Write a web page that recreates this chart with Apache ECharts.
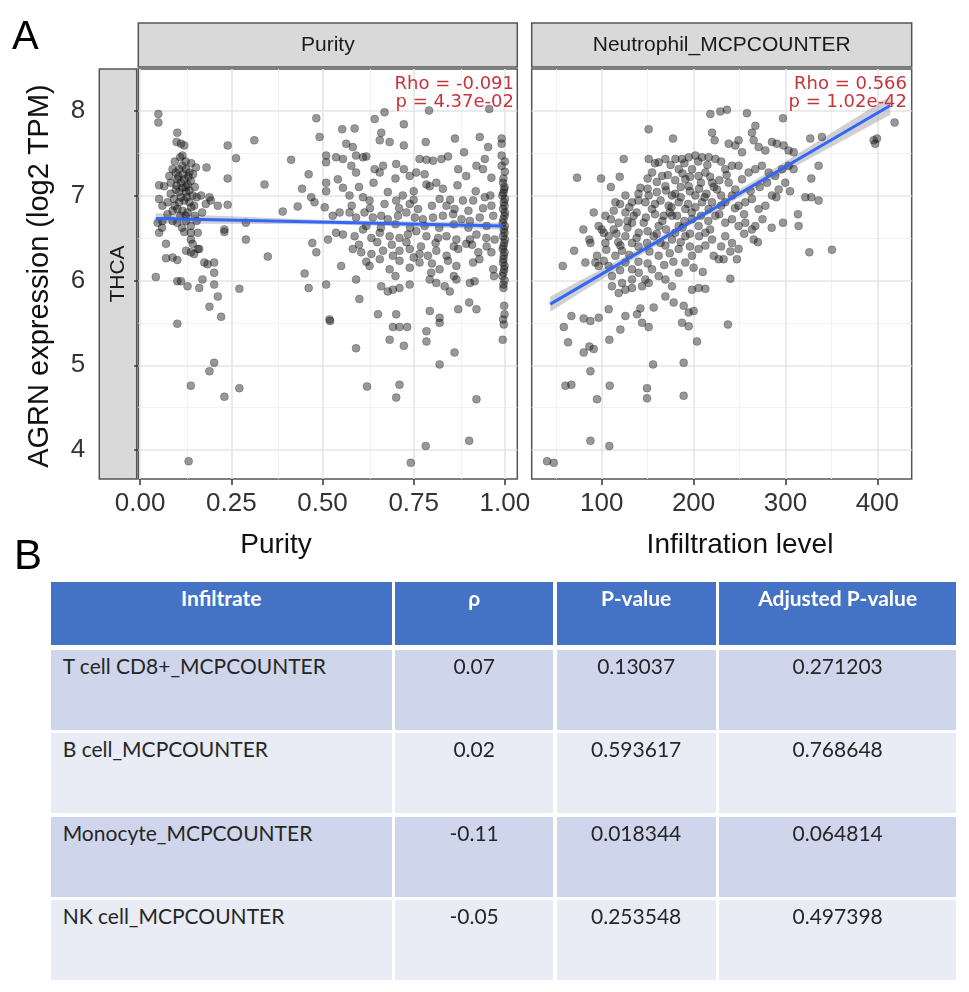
<!DOCTYPE html>
<html>
<head>
<meta charset="utf-8">
<script src="https://cdn.jsdelivr.net/npm/echarts@6/dist/echarts.min.js"></script>
<style>
html,body{margin:0;padding:0;background:#fff;}
#chart{position:absolute;left:0;top:0;width:969px;height:992px;}
#tbl{position:absolute;left:0;top:0;}
.cell{position:absolute;box-sizing:border-box;font-family:Lato,'Open Sans',sans-serif;font-size:21px;color:#262626;white-space:nowrap;overflow:hidden;}
</style>
</head>
<body>
<div id="chart"></div>
<div id="tbl"></div>
<script>
// ---------------- DATA ----------------
const panelTitles = ['Purity', 'Neutrophil_MCPCOUNTER'];
const cancerLabel = 'THCA';
const xTitles = ['Purity', 'Infiltration level'];
const yTitle = 'AGRN expression (log2 TPM)';
const purityTicks = [0, 0.25, 0.5, 0.75, 1.0];
const purityMinor = [0.125, 0.375, 0.625, 0.875];
const infiltrationTicks = [100, 200, 300, 400];
const infiltrationMinor = [50, 150, 250, 350];
const expressionTicks = [4, 5, 6, 7, 8];
const expressionMinor = [4.5, 5.5, 6.5, 7.5];
const purityStats = ['Rho = -0.091', 'p = 4.37e-02'];
const neutrophilStats = ['Rho = 0.566', 'p = 1.02e-42'];

// [purity, AGRN expression]
const purityPoints = [
[0.050,7.96],[0.050,7.86],[0.102,7.74],[0.100,7.63],[0.112,7.61],[0.121,7.59],[0.116,7.47],[0.240,7.59],[0.313,7.65],[0.263,7.44],[0.153,7.33],[0.182,7.33],[0.240,7.20],[0.341,7.13],
[0.089,7.31],[0.098,7.27],[0.107,7.31],[0.116,7.35],[0.126,7.31],[0.135,7.27],[0.102,7.19],[0.112,7.15],[0.121,7.19],[0.130,7.13],[0.139,7.17],[0.098,7.07],[0.107,7.04],[0.116,7.09],[0.126,7.04],[0.135,7.06],[0.144,7.00],[0.093,6.96],[0.107,6.92],[0.121,6.94],[0.135,6.92],[0.148,6.88],[0.102,6.84],[0.116,6.82],[0.130,6.80],[0.084,7.02],[0.075,6.92],[0.089,6.82],
[0.095,7.40],[0.110,7.45],[0.125,7.40],[0.140,7.38],[0.105,7.22],[0.118,7.25],[0.132,7.22],[0.145,7.25],[0.100,7.12],[0.125,7.10],[0.150,7.10],[0.112,6.98],[0.128,6.98],[0.155,6.98],[0.095,6.88],[0.140,6.86],[0.110,6.76],[0.125,6.76],[0.150,6.76],[0.170,6.80],[0.180,6.90],[0.075,6.78],[0.060,6.62],[0.115,6.62],[0.155,6.70],
[0.052,7.12],[0.066,7.11],[0.080,7.23],[0.084,7.15],[0.052,6.96],[0.061,6.88],
[0.167,7.00],[0.190,6.98],[0.194,6.94],[0.213,6.88],[0.240,6.89],[0.391,6.81],
[0.048,6.68],[0.061,6.70],[0.089,6.70],[0.102,6.68],[0.126,6.70],[0.139,6.64],
[0.052,6.56],[0.121,6.57],[0.139,6.56],[0.158,6.56],[0.231,6.60],[0.231,6.57],[0.290,6.68],[0.290,6.48],[0.071,6.43],[0.139,6.48],[0.144,6.43],[0.158,6.37],[0.126,6.35],[0.139,6.33],[0.148,6.31],[0.162,6.37],[0.350,6.28],[0.071,6.26],[0.089,6.27],[0.102,6.24],[0.176,6.21],[0.185,6.19],[0.203,6.21],[0.203,6.09],[0.043,6.04],[0.102,5.99],[0.112,5.99],[0.130,5.93],[0.162,5.91],[0.171,6.01],[0.203,5.95],[0.213,5.81],[0.272,5.90],[0.190,5.69],[0.222,5.57],[0.102,5.49],[0.203,5.03],[0.190,4.93],[0.139,4.76],[0.272,4.73],[0.231,4.63],[0.133,3.87],
[0.483,7.91],[0.492,7.69],[0.414,7.42],[0.462,7.25],[0.510,7.47],[0.510,7.39],[0.444,7.08],[0.469,6.98],[0.478,6.92],[0.432,6.87],[0.506,6.86],[0.510,7.15],[0.510,7.05],[0.472,6.44],[0.483,6.33],[0.515,6.48],[0.451,6.08],[0.462,5.91],[0.510,5.95],[0.519,5.54],[0.521,5.52],
[0.643,7.90],[0.670,7.98],[0.792,8.00],[0.957,8.02],[0.723,7.84],[0.554,7.78],[0.588,7.79],[0.661,7.74],[0.657,7.65],[0.684,7.63],[0.723,7.59],[0.783,7.63],[0.863,7.67],[0.931,7.69],[0.991,7.67],[0.991,7.61],[0.954,7.57],[0.945,7.43],[0.888,7.51],
[0.565,7.61],[0.583,7.57],[0.592,7.47],[0.611,7.45],[0.620,7.46],[0.537,7.45],[0.556,7.43],[0.579,7.35],[0.592,7.27],[0.643,7.31],[0.657,7.27],[0.666,7.35],[0.702,7.37],[0.723,7.31],[0.739,7.23],[0.757,7.27],[0.766,7.43],[0.785,7.42],[0.803,7.41],[0.826,7.43],[0.844,7.46],[0.785,7.13],[0.794,7.11],[0.812,7.15],[0.872,7.31],[0.894,7.23],[0.922,7.35],[0.940,7.31],[0.963,7.21],[0.991,7.47],[0.991,7.35],
[0.995,7.15],[0.998,7.07],[0.993,7.00],[0.997,6.92],[0.995,6.84],[0.999,6.76],[0.994,6.68],[0.997,6.60],[0.995,6.52],[0.998,6.44],[0.994,6.37],[0.997,6.29],[0.995,6.21],[0.998,6.13],[0.993,6.05],[0.996,5.91],[0.995,5.54],[0.997,5.48],[0.994,5.30],[1.000,7.40],[1.000,7.28],[0.996,7.20],[1.000,6.96],[1.000,6.80],[1.000,6.64],[1.000,6.48],
[0.999,7.10],[0.996,7.03],[0.999,6.88],[0.996,6.72],[0.999,6.56],[0.996,6.40],[0.999,6.33],[0.996,6.25],[0.999,6.17],[0.996,6.09],[0.999,6.00],[0.996,5.95],[0.998,5.70],[0.999,5.60],
[0.542,7.19],[0.556,7.09],[0.574,7.00],[0.611,6.98],[0.629,6.94],[0.679,7.04],[0.702,6.94],[0.720,7.00],[0.739,6.90],[0.762,6.84],[0.821,6.96],[0.840,6.88],[0.862,6.84],[0.885,6.94],[0.913,6.94],[0.945,6.98],[0.963,6.88],
[0.600,7.10],[0.640,7.15],[0.700,7.20],[0.750,7.05],[0.780,7.25],[0.830,7.08],[0.870,7.12],[0.920,7.05],[0.960,7.00],[0.580,6.88],[0.630,6.85],[0.670,6.90],[0.710,6.85],[0.750,6.95],[0.800,6.88],[0.850,6.95],[0.900,6.82],[0.940,6.85],
[0.528,6.76],[0.547,6.80],[0.574,6.80],[0.592,6.74],[0.615,6.80],[0.638,6.74],[0.661,6.76],[0.679,6.72],[0.707,6.76],[0.730,6.80],[0.753,6.74],[0.775,6.72],[0.803,6.74],[0.830,6.76],[0.858,6.78],[0.881,6.72],[0.904,6.70],[0.931,6.74],[0.968,6.76],
[0.620,6.64],[0.660,6.62],[0.700,6.66],[0.740,6.62],[0.780,6.64],[0.820,6.62],[0.860,6.66],[0.900,6.62],[0.950,6.64],
[0.537,6.56],[0.556,6.54],[0.588,6.52],[0.611,6.60],[0.634,6.50],[0.657,6.56],[0.684,6.52],[0.711,6.50],[0.734,6.54],[0.757,6.58],[0.785,6.52],[0.817,6.50],[0.840,6.52],[0.867,6.48],[0.904,6.48],[0.922,6.54],[0.949,6.50],[0.972,6.48],
[0.600,6.42],[0.650,6.45],[0.690,6.42],[0.730,6.45],[0.770,6.40],[0.810,6.44],[0.860,6.40],[0.910,6.42],[0.950,6.40],
[0.583,6.37],[0.606,6.33],[0.634,6.31],[0.666,6.35],[0.693,6.29],[0.711,6.35],[0.739,6.37],[0.766,6.31],[0.789,6.29],[0.812,6.35],[0.840,6.29],[0.872,6.37],[0.894,6.43],[0.927,6.33],[0.963,6.33],
[0.551,6.17],[0.592,6.01],[0.629,6.17],[0.657,6.25],[0.684,6.13],[0.711,6.23],[0.739,6.15],[0.766,6.21],[0.798,6.09],[0.821,6.13],[0.844,6.23],[0.867,6.17],[0.913,6.21],[0.968,6.13],
[0.620,6.22],[0.700,6.05],[0.750,6.27],[0.800,6.20],[0.860,6.05],[0.930,6.25],[0.970,6.05],
[0.661,5.93],[0.679,5.87],[0.693,5.89],[0.711,5.91],[0.739,5.95],[0.794,6.01],[0.812,5.97],[0.835,5.93],[0.849,5.87],[0.867,6.01],[0.904,5.97],[0.917,5.99],
[0.601,5.78],[0.652,5.60],[0.702,5.60],[0.794,5.64],[0.821,5.56],[0.821,5.50],[0.872,5.66],[0.902,5.74],[0.922,5.66],
[0.693,5.45],[0.711,5.45],[0.732,5.45],[0.592,5.20],[0.684,5.30],[0.723,5.23],[0.785,5.40],[0.785,5.28],[0.862,5.15],[0.821,5.01],[0.622,4.75],[0.711,4.77],[0.702,4.62],[0.922,4.60],[0.783,4.05],[0.902,4.11],[0.742,3.85]
];

// [Neutrophil_MCPCOUNTER infiltration level, AGRN expression]
const neutrophilPoints = [
[40.5,3.87],[47.8,3.85],[87.7,4.11],[108.3,4.05],[60.5,4.76],[67.0,4.77],[94.9,4.60],[108.7,4.76],[149.3,4.73],[149.3,4.61],[189.2,4.64],[87.7,4.93],[155.9,5.01],[189.2,5.03],[80.4,5.15],[86.6,5.22],[91.3,5.19],[63.4,5.27],[108.3,5.30],[58.7,5.45],[67.0,5.58],[80.4,5.55],[87.7,5.52],[96.7,5.56],[107.6,5.66],[120.3,5.42],[125.8,5.58],[138.5,5.60],[142.1,5.67],[143.9,5.50],[151.1,5.45],[156.6,5.68],[169.3,5.81],[178.3,5.74],[189.2,5.70],[194.7,5.62],[200.1,5.64],[187.4,5.50],[194.7,5.46],[203.7,5.28],[198.3,5.89],[205.5,5.91],[212.8,5.90],[57.6,6.17],[82.2,6.21],[93.1,6.21],[96.7,6.17],[86.6,6.48],[91.3,6.80],[73.2,7.21],[99.3,7.20],[119.6,7.22],[123.9,7.43],[151.1,7.78],[177.6,7.67],[218.2,7.96],[229.1,7.99],[220.1,7.74],[222.9,7.65],
[104.0,6.76],[113.1,6.82],[118.5,6.68],[102.2,6.56],[107.6,6.52],[122.1,6.35],[120.3,6.41],[125.8,6.52],[133.0,6.68],[134.8,6.76],[140.3,6.56],[142.1,7.09],[147.5,6.92],[151.1,7.00],[154.8,6.84],[145.7,6.68],[149.3,6.44],[156.6,6.52],[162.0,6.64],[167.5,6.76],[172.9,6.88],[176.5,7.00],[169.3,7.11],[165.7,7.23],[154.8,7.27],[151.1,7.43],[162.0,7.39],[169.3,7.43],[180.2,7.43],[187.4,7.43],[194.7,7.45],[201.9,7.47],[209.2,7.45],[216.4,7.45],[223.7,7.43],[183.8,7.31],[191.0,7.19],[198.3,7.31],[205.5,7.23],[212.8,7.27],[220.1,7.15],[225.5,7.07],[194.7,7.11],[201.9,7.00],[209.2,6.92],[216.4,6.84],[223.7,6.76],[183.8,6.92],[191.0,6.84],[198.3,6.72],[205.5,6.64],[212.8,6.56],[220.1,6.48],[176.5,6.76],[183.8,6.64],[191.0,6.52],[176.5,6.48],[183.8,6.37],[169.3,6.41],[162.0,6.29],[154.8,6.13],[162.0,6.05],[169.3,6.01],[176.5,5.93],[183.8,6.09],[191.0,6.21],[198.3,6.29],[205.5,6.37],[212.8,6.41],[221.9,6.29],[227.3,6.25],[133.0,6.44],[114.9,6.29],[125.8,6.21],[133.0,6.13],[140.3,6.09],[147.5,6.01],[133.0,6.01],[122.1,5.97],[111.2,5.93],[118.5,5.85],[125.8,5.89],[133.0,5.91],[143.9,5.93],[151.1,5.97],[111.2,6.05],[107.6,6.17],[102.2,6.23],[94.9,6.29],[114.9,6.92],[125.8,6.80],[133.0,6.92],[125.8,7.00],[96.7,6.64],[87.7,6.44],[104.0,6.44],[113.1,6.60],
[158,7.38],[175,7.36],[190,7.38],[205,7.40],[215,7.36],[230,7.40],
[150,7.20],[160,7.16],[172,7.24],[180,7.18],[188,7.26],[196,7.22],[208,7.15],[218,7.22],[228,7.18],[236,7.24],
[140,7.02],[150,7.08],[160,7.04],[170,7.06],[180,7.02],[186,7.10],[196,7.05],[206,7.08],[214,7.02],[222,7.10],[230,7.00],
[120,6.90],[130,6.86],[140,6.94],[158,6.90],[164,6.94],[176,6.86],[186,6.98],[194,6.90],[202,6.86],[212,6.98],[220,6.92],[230,6.88],
[110,6.72],[128,6.70],[138,6.80],[148,6.74],[158,6.78],[166,6.70],[174,6.80],[182,6.76],[190,6.70],[198,6.80],[208,6.76],[216,6.70],[228,6.78],
[100,6.60],[116,6.55],[128,6.62],[138,6.50],[150,6.58],[160,6.55],[170,6.60],[180,6.56],[188,6.62],[196,6.55],[206,6.52],[218,6.60],
[105,6.36],[118,6.45],[130,6.30],[140,6.40],[152,6.34],[164,6.44],[174,6.32],[186,6.45],[196,6.40],[230,6.40],[240,6.34],
[120,6.12],[140,6.22],[150,6.20],[168,6.18],[178,6.22],[200,6.15],[210,6.10],
[245,6.85],[255,6.78],[262,7.05],[272,7.10],[280,7.15],[290,6.98],[305,7.05],[255,6.55],[270,6.45],[285,6.62],
[80,6.60],[70,6.35],[110,7.10],
[418.8,7.86],[396.0,7.65],[399.6,7.67],[397.7,7.61],[297.3,7.91],[258.1,7.97],[236.3,8.01],[267.2,7.82],[263.5,7.74],[249.0,7.65],[245.4,7.59],[238.2,7.61],[252.7,7.51],[265.4,7.65],[270.8,7.57],[278.1,7.53],[285.3,7.63],[290.7,7.61],[298.0,7.59],[303.4,7.53],[308.9,7.51],[327.0,7.67],[339.7,7.69],
[336.1,7.35],[328.1,7.20],[321.6,6.98],[328.1,6.98],[336.1,6.94],[313.6,6.78],[314.3,6.64],[297.3,6.68],[275.0,6.72],[326.0,6.33],[350.6,6.36],[240.0,6.02],[237.4,5.48],
[234.5,7.31],[241.8,7.35],[249.0,7.35],[238.2,7.15],[245.4,7.07],[252.7,7.19],[259.9,7.27],[267.2,7.31],[274.4,7.35],[281.7,7.27],[288.9,7.23],[296.2,7.31],[303.4,7.35],[308.9,7.31],[234.5,6.92],[241.8,7.00],[249.0,6.88],[256.3,6.92],[263.5,6.96],[270.8,6.84],[278.1,6.88],[285.3,7.00],[292.6,7.07],[299.8,7.15],[234.5,6.68],[241.8,6.72],[249.0,6.64],[256.3,6.68],[263.5,6.60],[234.5,6.52],[241.8,6.44],[249.0,6.37],[247.2,6.25],[232.7,6.25],[265.4,6.48],[267.2,6.64]
];

// fitted lines and confidence bands: [x, lower, upper]
const purityFit = [[0.043, 6.73], [0.995, 6.64]];
const purityBand = [[0.043, 6.67, 6.79], [0.5, 6.66, 6.71], [0.995, 6.60, 6.68]];
const neutrophilFit = [[44, 5.72], [414, 8.06]];
const neutrophilBand = [[44, 5.63, 5.81], [120, 6.15, 6.25], [200, 6.675, 6.74], [300, 7.28, 7.40], [414, 7.95, 8.17]];

// table
const tableHeader = ['Infiltrate', 'ρ', 'P-value', 'Adjusted P-value'];
const tableRows = [
  ['T cell CD8+_MCPCOUNTER', '0.07', '0.13037', '0.271203'],
  ['B cell_MCPCOUNTER', '0.02', '0.593617', '0.768648'],
  ['Monocyte_MCPCOUNTER', '-0.11', '0.018344', '0.064814'],
  ['NK cell_MCPCOUNTER', '-0.05', '0.253548', '0.497398']
];

// ---------------- LAYOUT ----------------
const P1 = {left: 138.3, top: 69, width: 379, height: 410};
const P2 = {left: 531.7, top: 69, width: 380, height: 410};
const STRIP_TOP = 23, STRIP_H = 44;
const AXF = "'Liberation Sans', Arial, sans-serif";

const chart = echarts.init(document.getElementById('chart'), null, {renderer: 'canvas'});

function gridLines(xMaj, xMin, yMaj, yMin) {
  const maj = {color: '#e5e5e5', width: 1.6, type: 'solid'};
  const mn = {color: '#f1f1f1', width: 0.9, type: 'solid'};
  return [].concat(
    xMin.map(v => ({xAxis: v, lineStyle: mn})),
    yMin.map(v => ({yAxis: v, lineStyle: mn})),
    xMaj.map(v => ({xAxis: v, lineStyle: maj})),
    yMaj.map(v => ({yAxis: v, lineStyle: maj}))
  );
}
function bandRenderer(band) {
  return function (params, api) {
    if (params.dataIndex !== 0) return null;
    const pts = [];
    band.forEach(b => pts.push(api.coord([b[0], b[2]])));
    for (let i = band.length - 1; i >= 0; i--) pts.push(api.coord([band[i][0], band[i][1]]));
    return {type: 'polygon', shape: {points: pts}, style: {fill: 'rgba(150,150,150,0.45)'}, silent: true};
  };
}
function xAxisCfg(idx, min, max, ticks, fmt) {
  return {
    gridIndex: idx, type: 'value', min: min, max: max,
    axisLine: {show: false}, splitLine: {show: false},
    axisTick: {show: true, length: 6, customValues: ticks, lineStyle: {color: '#333', width: 1.5}},
    axisLabel: {customValues: ticks, formatter: fmt, fontSize: 26, fontFamily: AXF, color: '#333', margin: 12}
  };
}
const pointStyle = {color: 'rgba(20,20,20,0.55)', borderColor: 'rgba(0,0,0,0.35)', borderWidth: 0.8};

const option = {
  animation: false,
  backgroundColor: '#fff',
  grid: [
    Object.assign({show: true, borderColor: '#555', borderWidth: 1.5, backgroundColor: '#fff'}, P1),
    Object.assign({show: true, borderColor: '#555', borderWidth: 1.5, backgroundColor: '#fff'}, P2)
  ],
  xAxis: [
    xAxisCfg(0, -0.005, 1.034, purityTicks, v => v.toFixed(2)),
    xAxisCfg(1, 23.8, 437.4, infiltrationTicks, v => String(v))
  ],
  yAxis: [
    {gridIndex: 0, type: 'value', min: 3.66, max: 8.49, offset: 39,
     axisLine: {show: false}, splitLine: {show: false},
     axisTick: {show: true, length: 6, customValues: expressionTicks, lineStyle: {color: '#333', width: 1.5}},
     axisLabel: {customValues: expressionTicks, formatter: v => String(v), fontSize: 26, fontFamily: AXF, color: '#333', margin: 14}},
    {gridIndex: 1, type: 'value', min: 3.66, max: 8.49,
     axisLine: {show: false}, splitLine: {show: false}, axisTick: {show: false}, axisLabel: {show: false}}
  ],
  series: [
    {type: 'custom', xAxisIndex: 0, yAxisIndex: 0, data: purityBand, renderItem: bandRenderer(purityBand), clip: true, z: 2, silent: true},
    {type: 'custom', xAxisIndex: 1, yAxisIndex: 1, data: neutrophilBand, renderItem: bandRenderer(neutrophilBand), clip: true, z: 2, silent: true},
    {type: 'scatter', xAxisIndex: 0, yAxisIndex: 0, data: purityPoints, symbolSize: 8, itemStyle: pointStyle, z: 3, silent: true,
     markLine: {silent: true, symbol: ['none', 'none'], label: {show: false}, z: 1, animation: false,
       data: gridLines(purityTicks, purityMinor, expressionTicks, expressionMinor)}},
    {type: 'scatter', xAxisIndex: 1, yAxisIndex: 1, data: neutrophilPoints, symbolSize: 8, itemStyle: pointStyle, z: 3, silent: true,
     markLine: {silent: true, symbol: ['none', 'none'], label: {show: false}, z: 1, animation: false,
       data: gridLines(infiltrationTicks, infiltrationMinor, expressionTicks, expressionMinor)}},
    {type: 'line', xAxisIndex: 0, yAxisIndex: 0, data: purityFit, showSymbol: false, lineStyle: {color: '#3366ff', width: 3}, z: 4, silent: true},
    {type: 'line', xAxisIndex: 1, yAxisIndex: 1, data: neutrophilFit, showSymbol: false, lineStyle: {color: '#3366ff', width: 3}, z: 4, silent: true}
  ],
  graphic: [
    {type: 'rect', shape: {x: P1.left, y: STRIP_TOP, width: P1.width, height: STRIP_H}, style: {fill: '#d9d9d9', stroke: '#555', lineWidth: 1.5}},
    {type: 'rect', shape: {x: P2.left, y: STRIP_TOP, width: P2.width, height: STRIP_H}, style: {fill: '#d9d9d9', stroke: '#555', lineWidth: 1.5}},
    {type: 'rect', shape: {x: 99.3, y: P1.top, width: 37.4, height: P1.height}, style: {fill: '#d9d9d9', stroke: '#555', lineWidth: 1.5}},
    {type: 'text', x: P1.left + P1.width / 2, y: STRIP_TOP + STRIP_H / 2, style: {text: panelTitles[0], font: "21px " + AXF, fill: '#1a1a1a', align: 'center', verticalAlign: 'middle'}},
    {type: 'text', x: P2.left + P2.width / 2, y: STRIP_TOP + STRIP_H / 2, style: {text: panelTitles[1], font: "21px " + AXF, fill: '#1a1a1a', align: 'center', verticalAlign: 'middle'}},
    {type: 'text', x: 118, y: P1.top + P1.height / 2, rotation: Math.PI / 2, style: {text: cancerLabel, font: "21px " + AXF, fill: '#1a1a1a', align: 'center', verticalAlign: 'middle'}},
    {type: 'text', x: 514, y: 84, z: 10, style: {text: purityStats[0], font: "18px 'DejaVu Sans', sans-serif", fill: '#c4343c', align: 'right', verticalAlign: 'middle'}},
    {type: 'text', x: 514, y: 102, z: 10, style: {text: purityStats[1], font: "18px 'DejaVu Sans', sans-serif", fill: '#c4343c', align: 'right', verticalAlign: 'middle'}},
    {type: 'text', x: 907, y: 84, z: 10, style: {text: neutrophilStats[0], font: "18px 'DejaVu Sans', sans-serif", fill: '#c4343c', align: 'right', verticalAlign: 'middle'}},
    {type: 'text', x: 907, y: 102, z: 10, style: {text: neutrophilStats[1], font: "18px 'DejaVu Sans', sans-serif", fill: '#c4343c', align: 'right', verticalAlign: 'middle'}},
    {type: 'text', x: 276, y: 545, style: {text: xTitles[0], font: "28px " + AXF, fill: '#111', align: 'center', verticalAlign: 'middle'}},
    {type: 'text', x: 740, y: 545, style: {text: xTitles[1], font: "28px " + AXF, fill: '#111', align: 'center', verticalAlign: 'middle'}},
    {type: 'text', x: 40, y: 276, rotation: Math.PI / 2, style: {text: yTitle, font: "29px " + AXF, fill: '#111', align: 'center', verticalAlign: 'middle'}},
    {type: 'text', x: 12, y: 38, style: {text: 'A', font: "40px " + AXF, fill: '#000', align: 'left', verticalAlign: 'middle'}},
    {type: 'text', x: 14, y: 557, style: {text: 'B', font: "42px " + AXF, fill: '#000', align: 'left', verticalAlign: 'middle'}}
  ]
};
chart.setOption(option);

// ---------------- TABLE (HTML) ----------------
const colEdges = [50.7, 393.3, 555, 717.3, 956.5];
const headTop = 582, headBottom = 645;
const rowTops = [650, 733, 817, 900], rowH = 80;
const rowColors = ['#cfd5ea', '#e9ebf5'];
const tbl = document.getElementById('tbl');
function addCell(text, x0, x1, y0, h, bg, opts) {
  const d = document.createElement('div');
  d.className = 'cell';
  d.style.left = x0 + 'px'; d.style.top = y0 + 'px';
  d.style.width = (x1 - x0) + 'px'; d.style.height = h + 'px';
  d.style.background = bg;
  d.style.paddingTop = opts.padTop + 'px';
  d.style.textAlign = opts.align;
  if (opts.align === 'left') d.style.paddingLeft = '12px';
  if (opts.bold) d.style.fontWeight = 'bold';
  if (opts.color) d.style.color = opts.color;
  d.textContent = text;
  tbl.appendChild(d);
}
tableHeader.forEach((t, c) => {
  addCell(t, colEdges[c] + (c ? 1.5 : 0), colEdges[c + 1] - (c < 3 ? 1.5 : 0), headTop, headBottom - headTop, '#4472c4',
    {padTop: 3, align: 'center', bold: true, color: '#fff'});
});
tableRows.forEach((row, r) => {
  row.forEach((t, c) => {
    addCell(t, colEdges[c] + (c ? 1.5 : 0), colEdges[c + 1] - (c < 3 ? 1.5 : 0), rowTops[r], rowH, rowColors[r % 2],
      {padTop: 3, align: c === 0 ? 'left' : 'center'});
  });
});
</script>
</body>
</html>
